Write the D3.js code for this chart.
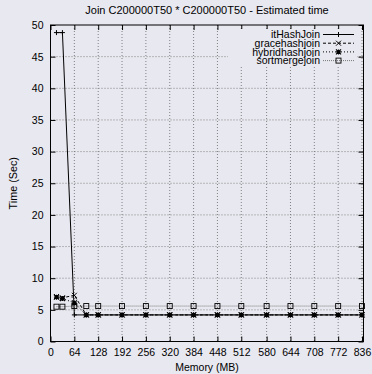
<!DOCTYPE html>
<html>
<head>
<meta charset="utf-8">
<script src="https://cdn.jsdelivr.net/npm/d3@7"></script>
<style>
  body { margin: 0; background: #e8e8f0; }
  svg { display: block; font-family: "Liberation Sans", Arial, sans-serif; }
</style>
</head>
<body>
<div id="chart"></div>
<script>
"use strict";

const memory = [16, 32, 64, 96, 128, 192, 256, 320, 384, 448, 512, 580, 644, 708, 772, 836];
const xTicks = [0, 64, 128, 192, 256, 320, 384, 448, 512, 580, 644, 708, 772, 836];
const yTicks = [0, 5, 10, 15, 20, 25, 30, 35, 40, 45, 50];

const itHashJoin     = [48.8, 48.8, 4.2, 4.2, 4.2, 4.2, 4.2, 4.2, 4.2, 4.2, 4.2, 4.2, 4.2, 4.2, 4.2, 4.2];
const gracehashjoin  = [7.1, 6.9, 7.3, 4.2, 4.2, 4.2, 4.2, 4.2, 4.2, 4.2, 4.2, 4.2, 4.2, 4.2, 4.2, 4.2];
const hybridhashjoin = [7.0, 6.8, 6.1, 4.2, 4.2, 4.2, 4.2, 4.2, 4.2, 4.2, 4.2, 4.2, 4.2, 4.2, 4.2, 4.2];
const sortmergejoin  = [5.5, 5.5, 5.6, 5.6, 5.6, 5.6, 5.6, 5.6, 5.6, 5.6, 5.6, 5.6, 5.6, 5.6, 5.6, 5.6];

const series = [
  { name: "itHashJoin", values: itHashJoin, dash: null, color: "#000", marker: "plus" },
  { name: "gracehashjoin", values: gracehashjoin, dash: "3,2", color: "#000", marker: "cross" },
  { name: "hybridhashjoin", values: hybridhashjoin, dash: "1,2", color: "#000", marker: "star" },
  { name: "sortmergejoin", values: sortmergejoin, dash: "1,1", color: "#777", marker: "square" }
];

const W = 372, H = 374;
const pLeft = 50.5, pRight = 363.5, pTop = 25, pBottom = 341.5;

const svg = d3.select("#chart").append("svg")
  .attr("width", W)
  .attr("height", H);

const x = d3.scaleLinear().domain([0, 840]).range([pLeft, pRight]);
const y = d3.scaleLinear().domain([0, 50]).range([pBottom, pTop]);

// grid
const grid = svg.append("g").attr("stroke", "#666").attr("stroke-width", 0.8)
  .attr("stroke-dasharray", "1,2");
xTicks.forEach(t => {
  if (t === 0) return;
  grid.append("line").attr("x1", x(t)).attr("x2", x(t)).attr("y1", pTop).attr("y2", pBottom);
});
yTicks.forEach(t => {
  if (t === 0 || t === 50) return;
  grid.append("line").attr("x1", pLeft).attr("x2", pRight).attr("y1", y(t)).attr("y2", y(t));
});

// axes (ticks inward, mirrored)
const axB = svg.append("g").attr("transform", `translate(0,${pBottom})`)
  .call(d3.axisBottom(x).tickValues(xTicks).tickSizeInner(-5).tickSizeOuter(0).tickPadding(7.5));
const axT = svg.append("g").attr("transform", `translate(0,${pTop})`)
  .call(d3.axisTop(x).tickValues(xTicks).tickSizeInner(-5).tickSizeOuter(0).tickFormat(""));
const axL = svg.append("g").attr("transform", `translate(${pLeft},0)`)
  .call(d3.axisLeft(y).tickValues(yTicks).tickSizeInner(-5).tickSizeOuter(0).tickPadding(7));
const axR = svg.append("g").attr("transform", `translate(${pRight},0)`)
  .call(d3.axisRight(y).tickValues(yTicks).tickSizeInner(-5).tickSizeOuter(0).tickFormat(""));
[axB, axT, axL, axR].forEach(a => {
  a.select(".domain").remove();
  a.selectAll("line").attr("stroke", "#000");
  a.selectAll("text").attr("font-size", 10.5).attr("fill", "#000")
    .attr("font-family", "'Liberation Sans', Arial, sans-serif");
});

// legend background covers the grid
const legX = 320, legY = 34.5, legStep = 8.7;
svg.append("rect")
  .attr("x", 228).attr("y", 29)
  .attr("width", 129).attr("height", 36)
  .attr("fill", "#e8e8f0");

function drawMarker(g, type, cx, cy, color) {
  const s = 2.5;
  if (type === "plus") {
    g.append("path").attr("d", `M${cx - s},${cy}H${cx + s}M${cx},${cy - s}V${cy + s}`)
      .attr("stroke", color).attr("stroke-width", 1);
  } else if (type === "cross") {
    g.append("path").attr("d", `M${cx - s},${cy - s}L${cx + s},${cy + s}M${cx - s},${cy + s}L${cx + s},${cy - s}`)
      .attr("stroke", color).attr("stroke-width", 1);
  } else if (type === "star") {
    g.append("path").attr("d", `M${cx - s},${cy - s}L${cx + s},${cy + s}M${cx - s},${cy + s}L${cx + s},${cy - s}M${cx - s},${cy}H${cx + s}M${cx},${cy - s}V${cy + s}`)
      .attr("stroke", color).attr("stroke-width", 1.2);
  } else {
    g.append("rect").attr("x", cx - s).attr("y", cy - s).attr("width", 2 * s).attr("height", 2 * s)
      .attr("fill", "none").attr("stroke", "#000").attr("stroke-width", 0.9);
  }
}

const line = d3.line().x((d, i) => x(memory[i])).y(d => y(d));

// draw back to front
series.slice().reverse().forEach(s => {
  svg.append("path")
    .datum(s.values)
    .attr("d", line)
    .attr("fill", "none")
    .attr("stroke", s.color)
    .attr("stroke-width", 1)
    .attr("stroke-dasharray", s.dash);
  const mg = svg.append("g");
  s.values.forEach((v, i) => drawMarker(mg, s.marker, x(memory[i]), y(v), "#000"));
});

// legend
series.forEach((s, i) => {
  const ly = legY + i * legStep;
  svg.append("text")
    .attr("x", legX).attr("y", ly)
    .attr("dy", "0.35em")
    .attr("text-anchor", "end")
    .attr("font-size", 10.5)
    .text(s.name);
  svg.append("line")
    .attr("x1", 323).attr("x2", 354)
    .attr("y1", ly).attr("y2", ly)
    .attr("stroke", s.color)
    .attr("stroke-width", 1)
    .attr("stroke-dasharray", s.dash);
  drawMarker(svg, s.marker, 338.5, ly, "#000");
});

// frame
svg.append("rect")
  .attr("x", pLeft).attr("y", pTop)
  .attr("width", pRight - pLeft).attr("height", pBottom - pTop)
  .attr("fill", "none").attr("stroke", "#000").attr("stroke-width", 1);

// titles
svg.append("text")
  .attr("x", (pLeft + pRight) / 2).attr("y", 14)
  .attr("text-anchor", "middle")
  .attr("font-size", 11)
  .text("Join C200000T50 * C200000T50 - Estimated time");

svg.append("text")
  .attr("x", (pLeft + pRight) / 2).attr("y", 371)
  .attr("text-anchor", "middle")
  .attr("font-size", 10.5)
  .text("Memory (MB)");

svg.append("text")
  .attr("transform", `translate(17,${(pTop + pBottom) / 2}) rotate(-90)`)
  .attr("text-anchor", "middle")
  .attr("font-size", 10.8)
  .text("Time (Sec)");
</script>
</body>
</html>
